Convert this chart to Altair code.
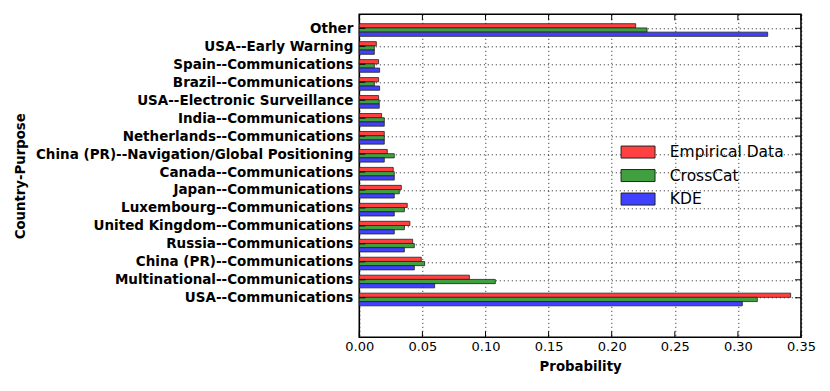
import json
import altair as alt
import pandas as pd

# ---- data (top to bottom as shown) ----
categories = [
    "Other",
    "USA--Early Warning",
    "Spain--Communications",
    "Brazil--Communications",
    "USA--Electronic Surveillance",
    "India--Communications",
    "Netherlands--Communications",
    "China (PR)--Navigation/Global Positioning",
    "Canada--Communications",
    "Japan--Communications",
    "Luxembourg--Communications",
    "United Kingdom--Communications",
    "Russia--Communications",
    "China (PR)--Communications",
    "Multinational--Communications",
    "USA--Communications",
]
empirical = [0.219, 0.0135, 0.0153, 0.0153, 0.0153, 0.0177, 0.0198, 0.0222,
             0.0269, 0.0333, 0.0380, 0.0401, 0.0423, 0.0491, 0.0872, 0.3418]
crosscat = [0.228, 0.0119, 0.0119, 0.0119, 0.0158, 0.0198, 0.0198, 0.0277,
            0.0277, 0.0317, 0.0357, 0.0357, 0.0436, 0.0518, 0.1078, 0.3154]
kde = [0.3236, 0.0119, 0.0161, 0.0161, 0.0158, 0.0198, 0.0198, 0.0198,
       0.0277, 0.0277, 0.0277, 0.0277, 0.0357, 0.0436, 0.0597, 0.3035]
series_names = ["Empirical Data", "CrossCat", "KDE"]
series_colors = ["#ff4040", "#40a040", "#4040ff"]
x_ticks = [0.0, 0.05, 0.10, 0.15, 0.20, 0.25, 0.30, 0.35]

n = len(categories)
rows = []
for k, (name, vals) in enumerate(zip(series_names, [empirical, crosscat, kde])):
    for i, (cat, v) in enumerate(zip(categories, vals)):
        rows.append({"category": cat, "pos": n - 1 - i, "series": name,
                     "k": k, "value": v})
df = pd.DataFrame(rows)
xtick_df = pd.DataFrame({"t": x_ticks})
ytick_df = pd.DataFrame({"p": list(range(n))})

bottom_up = list(reversed(categories))
label_expr = json.dumps(bottom_up) + "[round(datum.value)]"

FONT = "DejaVu Sans"
W, H = 441.7, 323
TK = 6

x_scale = alt.Scale(domain=[0, 0.35], nice=False, zero=True)
y_scale = alt.Scale(domain=[-2.2, 15.78], nice=False, zero=False)

bars = alt.Chart(df).transform_calculate(
    yc="datum.pos + 0.14 - 0.235 * datum.k"
).transform_calculate(
    y1="datum.yc - 0.1175", y2="datum.yc + 0.1175"
).mark_bar(stroke="#222222", strokeWidth=1, fillOpacity=1, strokeOpacity=0.8).encode(
    x=alt.X("value:Q", scale=x_scale,
            axis=alt.Axis(values=x_ticks, format=".2f", title="Probability",
                          labelFont=FONT, labelFontSize=13, labelColor="black",
                          labelPadding=3, tickSize=0, domain=False,
                          labelOverlap=False,
                          titleFont=FONT, titleFontSize=13.3, titleFontWeight="bold",
                          titleColor="black", titlePadding=6,
                          grid=True, gridColor="black", gridDash=[1, 3],
                          gridWidth=1, gridOpacity=0.9, labelFlush=False)),
    x2=alt.datum(0),
    y=alt.Y("y1:Q", scale=y_scale,
            axis=alt.Axis(values=list(range(n)), labelExpr=label_expr,
                          title="Country-Purpose", labelLimit=500,
                          labelOverlap=False,
                          labelFont=FONT, labelFontSize=13.5, labelFontWeight="bold",
                          labelColor="black", labelPadding=6.5, tickSize=0,
                          domain=False, titleFont=FONT, titleFontSize=13.3,
                          titleFontWeight="bold", titleColor="black",
                          titleX=-332, titleY=H / 2, titleAlign="center",
                          titleAngle=270, titleBaseline="bottom",
                          grid=True, gridColor="black", gridDash=[1, 3],
                          gridWidth=1, gridOpacity=0.9, labelFlush=False)),
    y2="y2:Q",
    fill=alt.Fill("series:N",
                  scale=alt.Scale(domain=series_names, range=series_colors),
                  legend=alt.Legend(
                      title=None, orient="none", legendX=271, legendY=130,
                      symbolType="M-2.83,-1H2.83V1H-2.83Z", symbolSize=144,
                      symbolStrokeColor="#222222", symbolStrokeWidth=1,
                      symbolOpacity=1, labelOffset=24, labelFont=FONT,
                      labelFontSize=15.5, labelColor="black", rowPadding=5.5,
                      padding=0, labelLimit=300)),
)

top_ticks = alt.Chart(xtick_df).mark_rule(color="black", strokeWidth=1).encode(
    x=alt.X("t:Q", scale=x_scale, axis=None), y=alt.value(0), y2=alt.value(TK))
bottom_ticks = alt.Chart(xtick_df).mark_rule(color="black", strokeWidth=1).encode(
    x=alt.X("t:Q", scale=x_scale, axis=None), y=alt.value(H - TK), y2=alt.value(H))
right_ticks = alt.Chart(ytick_df).mark_rule(color="black", strokeWidth=1).encode(
    y=alt.Y("p:Q", scale=y_scale, axis=None), x=alt.value(W - TK), x2=alt.value(W))
left_ticks = alt.Chart(ytick_df).mark_rule(color="black", strokeWidth=1).encode(
    y=alt.Y("p:Q", scale=y_scale, axis=None), x=alt.value(0), x2=alt.value(TK))

chart = alt.layer(bars, top_ticks, bottom_ticks, right_ticks, left_ticks).resolve_axis(
    x="independent", y="independent"
).properties(
    width=W, height=H,
    autosize=alt.AutoSizeParams(type="none"),
    padding={"left": 351.3, "top": 6.3, "right": 20, "bottom": 46},
).configure_view(
    stroke="black", strokeWidth=1.6
).configure_axis(
    labelOverlap=False
)

chart.save("out.html", embed_options={"renderer": "svg", "actions": False})
